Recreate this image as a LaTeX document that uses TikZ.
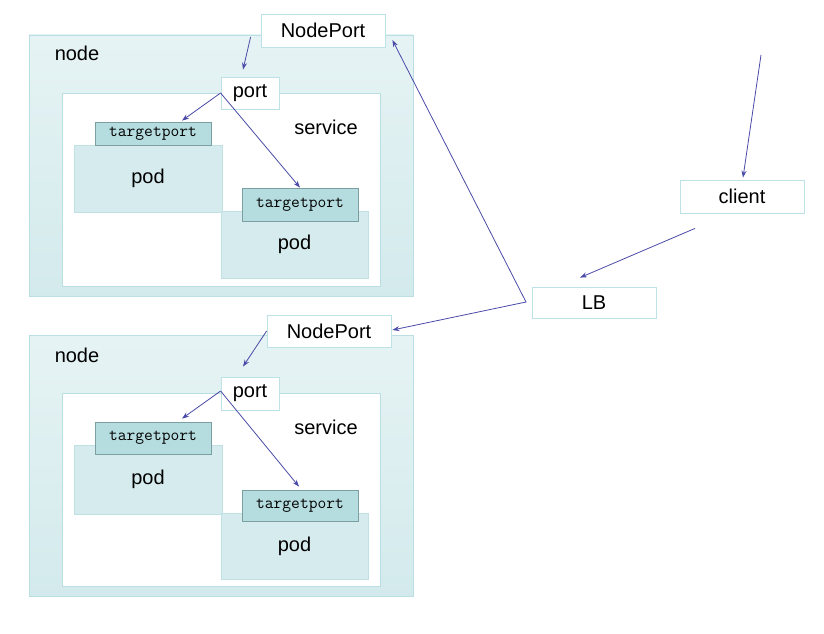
\documentclass[tikz,border=0pt]{standalone}
\usepackage{fontspec}
\setmainfont{Liberation Sans}
\usepackage{xcolor}
\usepackage{tikz}
\usetikzlibrary{arrows.meta}

\definecolor{hosttop}{HTML}{E6F3F4}
\definecolor{hostbot}{HTML}{D3EAEC}
\definecolor{hostline}{HTML}{B9DFE2}
\definecolor{podfill}{HTML}{D6EBED}
\definecolor{podline}{HTML}{C0E1E4}
\definecolor{tpfill}{HTML}{B5DDDF}
\definecolor{tpline}{HTML}{7C9FA1}
\definecolor{tagline}{HTML}{BCE2E5}
\definecolor{flow}{HTML}{4A4AA8}

\begin{document}
\begin{tikzpicture}[
        x=1pt, y=-1pt,
        font=\fontsize{20}{24}\selectfont,
        >={Stealth[length=7pt,width=5pt]},
        % the big node rectangles
        hostbox/.style={
            rectangle, draw=hostline, line width=0.8pt,
            top color=hosttop, bottom color=hostbot,
            minimum width=384pt, minimum height=261pt, inner sep=0pt
        },
        svcbox/.style={
            rectangle, draw=hostline, line width=0.8pt, fill=white,
            minimum width=318pt, minimum height=193pt, inner sep=0pt
        },
        podbox/.style={
            rectangle, draw=podline, line width=0.8pt, fill=podfill,
            minimum width=148pt, inner sep=0pt
        },
        tportbox/.style={
            rectangle, draw=tpline, line width=0.8pt, fill=tpfill,
            minimum width=116pt, inner sep=0pt,
            font=\fontsize{17}{20}\selectfont\ttfamily
        },
        tagbox/.style={
            rectangle, draw=tagline, line width=0.8pt, fill=white,
            minimum height=33pt, inner sep=0pt
        },
        flowline/.style={->, draw=flow, line width=0.8pt}
    ]

        \useasboundingbox (0,0) rectangle (824,634);

        % ==========================
        % UPPER NODE
        % ==========================
        \node[hostbox] (hostA) at (221, 165.5) {};
        \node (hostLblA) at (77, 53) {node};
        \node[svcbox] (svcA) at (221, 189.5) {};
        \node (svcLblA) at (326, 127) {service};

        \node[podbox, minimum height=67pt] (podOneA) at (148, 178.5) {pod};
        \node[tportbox, minimum height=23pt] (tpOneA) at (153, 133.5) {targetport};
        \node[podbox, minimum height=67pt, minimum width=147pt] (podTwoA) at (294.5, 244.5) {pod};
        \node[tportbox, minimum height=33pt] (tpTwoA) at (300, 204.5) {targetport};

        \node[tagbox, minimum width=124pt] (npA) at (323, 30.5) {NodePort};
        \node[tagbox, minimum width=58pt, minimum height=32pt] (portA) at (250, 93) {port};

        % Upper connections
        \draw[flowline] ([shift={(-10,6.5)}]npA.west) -- ([shift={(-7,-7)}]portA.north);
        \draw[flowline] (portA.west) -- ([shift={(29,-1)}]tpOneA.north);
        \draw[flowline] (portA.west) -- (tpTwoA.north);


        % ==========================
        % LOWER NODE
        % ==========================
        \node[hostbox] (hostB) at (221, 466) {};
        \node (hostLblB) at (77, 355) {node};
        \node[svcbox] (svcB) at (221, 489.5) {};
        \node (svcLblB) at (326, 427) {service};

        \node[podbox, minimum height=69pt] (podOneB) at (148, 479.5) {pod};
        \node[tportbox, minimum height=32pt] (tpOneB) at (153, 438) {targetport};
        \node[podbox, minimum height=66pt, minimum width=147pt] (podTwoB) at (294.5, 546) {pod};
        \node[tportbox, minimum height=31pt] (tpTwoB) at (300, 505.5) {targetport};

        \node[tagbox, minimum width=124pt, minimum height=32pt] (npB) at (329, 331) {NodePort};
        \node[tagbox, minimum width=58pt] (portB) at (250, 393.5) {port};

        % Lower connections
        \draw[flowline] (npB.west) -- ([shift={(-7,-10)}]portB.north);
        \draw[flowline] ([shift={(0,-2.5)}]portB.west) -- ([shift={(29,-3)}]tpOneB.north);
        \draw[flowline] ([shift={(0,-2.5)}]portB.west) -- ([shift={(-1,-3)}]tpTwoB.north);


        % ==========================
        % CLIENT AND LOAD BALANCER
        % ==========================
        \node[tagbox, minimum width=124pt] (client) at (742, 196.5) {client};
        \node[tagbox, minimum width=124pt, minimum height=31pt] (lb) at (594, 302.5) {LB};

        \coordinate (request) at (761, 55);
        \coordinate (lbSplit) at (526, 302);

        \draw[flowline] (request) -- ([shift={(1,-2)}]client.north);
        \draw[flowline] ([shift={(-47,15)}]client.south) -- ([shift={(-14,-9)}]lb.north);

        % LB fans out to both NodePorts
        \draw[flowline, <->] ([shift={(7,9.5)}]npA.east) -- (lbSplit) -- ([shift={(1,-1)}]npB.east);

    \end{tikzpicture}
\end{document}
